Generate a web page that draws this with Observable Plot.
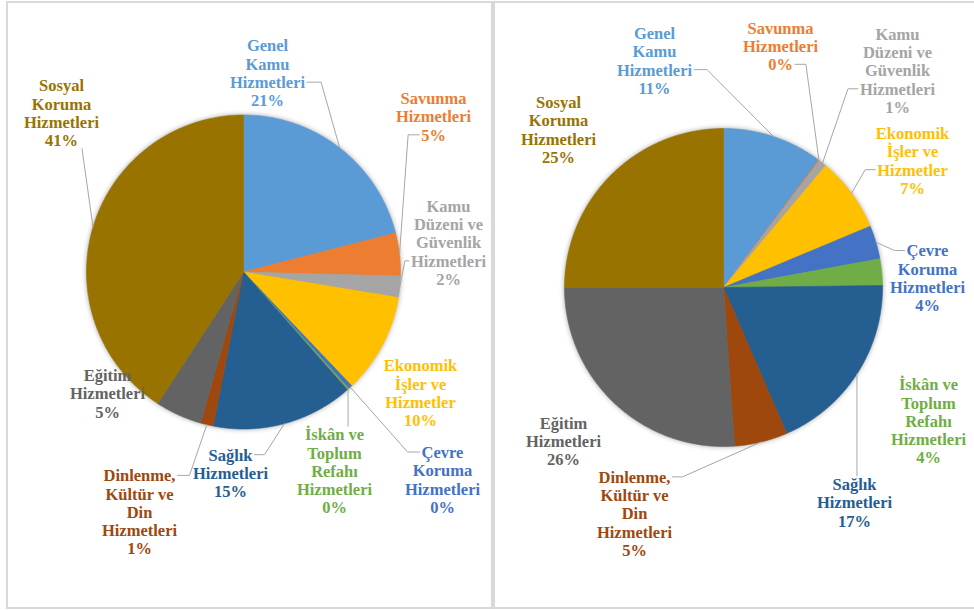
<!DOCTYPE html>
<html>
<head>
<meta charset="utf-8">
<script src="https://cdn.jsdelivr.net/npm/d3@7"></script>
<script src="https://cdn.jsdelivr.net/npm/@observablehq/plot@0.6"></script>
<style>
  html, body { margin: 0; padding: 0; background: #fff; }
  #wrap { position: relative; width: 974px; height: 610px; overflow: hidden; background: #fff; }
  .panel { position: absolute; box-sizing: border-box; border: 2px solid #d9d9d9; }
  .chart { position: absolute; top: 0; }
  .chart svg { overflow: visible; }
</style>
</head>
<body>
<div id="wrap">
  <div class="panel" style="left:6px; top:1px; width:487px; height:608px;"></div>
  <div class="panel" style="left:493px; top:1px; width:490px; height:608px;"></div>
  <div class="chart" id="left" style="left:0px;"></div>
  <div class="chart" id="right" style="left:493px;"></div>
</div>
<script>
// ---- Data ----
const categories = [
  "Genel Kamu Hizmetleri", "Savunma Hizmetleri", "Kamu Düzeni ve Güvenlik Hizmetleri",
  "Ekonomik İşler ve Hizmetler", "Çevre Koruma Hizmetleri", "İskân ve Toplum Refahı Hizmetleri",
  "Sağlık Hizmetleri", "Dinlenme, Kültür ve Din Hizmetleri", "Eğitim Hizmetleri", "Sosyal Koruma Hizmetleri"
];
const categoryLabels = [
  "Genel\nKamu\nHizmetleri", "Savunma\nHizmetleri", "Kamu\nDüzeni ve\nGüvenlik\nHizmetleri",
  "Ekonomik\nİşler ve\nHizmetler", "Çevre\nKoruma\nHizmetleri", "İskân ve\nToplum\nRefahı\nHizmetleri",
  "Sağlık\nHizmetleri", "Dinlenme,\nKültür ve\nDin\nHizmetleri", "Eğitim\nHizmetleri", "Sosyal\nKoruma\nHizmetleri"
];
const colors = ["#5B9BD5", "#ED7D31", "#A5A5A5", "#FFC000", "#4472C4", "#70AD47", "#255E91", "#9E480E", "#636363", "#997300"];

// shares (percent)
const leftShares  = [21.0, 4.4, 2.2, 10.3, 0.4, 0.2, 14.6, 1.3, 4.8, 40.8];
const rightShares = [10.2, 0.1, 0.8, 7.6, 3.4, 2.7, 18.7, 5.4, 26.1, 25.0];
// percentage labels as printed
const leftPctLabels  = ["21%", "5%", "2%", "10%", "0%", "0%", "15%", "1%", "5%", "41%"];
const rightPctLabels = ["11%", "0%", "1%", "7%", "4%", "4%", "17%", "5%", "26%", "25%"];

// ---- Layout (label block centre offsets from pie centre, leader style) ----
const leftLayout = [
  {dx: 24,   dy: -199,  leader: {type: "right", line: 2, stub: 14}},
  {dx: 190,  dy: -155.5, leader: {type: "left", line: 2, stub: 11}},
  {dx: 205,  dy: -29.5, leader: {type: "left", line: 3, stub: 4}},
  {dx: 177,  dy: 121,   leader: null},
  {dx: 199,  dy: 207.5, leader: {type: "left", line: 0, stub: 12}},
  {dx: 91,   dy: 199,   leader: {type: "top"}},
  {dx: -13,  dy: 201,   leader: {type: "right", line: 0, stub: 10}},
  {dx: -104, dy: 240,   leader: {type: "right", line: 0, stub: 12}},
  {dx: -136, dy: 121.5, leader: null},
  {dx: -182, dy: -159,  leader: {type: "bottom", line: 3}}
];
const rightLayout = [
  {dx: -69,  dy: -227,  leader: {type: "right", line: 2, stub: 13}},
  {dx: 57,   dy: -241.5, leader: {type: "right", line: 2, stub: 11}},
  {dx: 174,  dy: -217,  leader: {type: "left", line: 3, stub: 10}},
  {dx: 189,  dy: -127,  leader: {type: "left", line: 2, stub: 10}},
  {dx: 204,  dy: -9.5,  leader: {type: "left", line: 0, stub: 10}},
  {dx: 205,  dy: 133.5, leader: null},
  {dx: 131,  dy: 215,   leader: {type: "top"}},
  {dx: -89,  dy: 226,   leader: {type: "right", line: 0, stub: 10}},
  {dx: -160, dy: 153.5, leader: null},
  {dx: -165, dy: -158,  leader: null}
];

const FONT_SIZE = 16.5;
const LINE_H = 1.11;
const FONT_FAMILY = "'Liberation Serif', 'Times New Roman', serif";
const ctx = document.createElement("canvas").getContext("2d");
ctx.font = `bold ${FONT_SIZE}px ${FONT_FAMILY}`;
const measure = (s) => ctx.measureText(s).width;

function pieChart({shares, pcts, layout, width, height, cx, cy, r}) {
  const total = d3.sum(shares);
  const cum = d3.cumsum(shares);
  const slices = shares.map((v, i) => ({i, a0: (cum[i] - v) / total * 360, a1: cum[i] / total * 360}));
  const pts = [];
  for (const s of slices) {
    pts.push({k: s.i, x: 0, y: 0, c: colors[s.i]});
    const n = Math.max(2, Math.ceil((s.a1 - s.a0) / 0.5));
    for (let j = 0; j <= n; j++) {
      const a = (s.a0 + (s.a1 - s.a0) * j / n) * Math.PI / 180;
      pts.push({k: s.i, x: r * Math.sin(a), y: -r * Math.cos(a), c: colors[s.i]});
    }
    pts.push({k: s.i, x: 0, y: 0, c: colors[s.i]});
  }
  const labels = layout.map((L, i) => ({x: L.dx, y: L.dy, text: categoryLabels[i] + "\n" + pcts[i], c: colors[i]}));
  const lh = FONT_SIZE * LINE_H;
  const leaders = [];
  layout.forEach((L, i) => {
    if (!L.leader) return;
    const s = slices[i];
    const m = (s.a0 + s.a1) / 2 * Math.PI / 180;
    const ex = r * Math.sin(m), ey = -r * Math.cos(m);
    const lines = labels[i].text.split("\n");
    const top = L.dy - lines.length * lh / 2;
    const P = [];
    const t = L.leader.type;
    if (t === "right" || t === "left") {
      const w = measure(lines[L.leader.line]);
      const sy = top + (L.leader.line + 0.5) * lh;
      const sgn = t === "right" ? 1 : -1;
      const sx = L.dx + sgn * (w / 2 + 2);
      P.push([sx, sy], [sx + sgn * L.leader.stub, sy], [ex, ey]);
    } else if (t === "top") {
      P.push([ex, top + 1], [ex, ey]);
    } else if (t === "bottom") {
      const w = measure(lines[L.leader.line]);
      P.push([L.dx + w / 2 + 4, top + lines.length * lh - 1], [ex, ey]);
    }
    P.forEach(([x, y]) => leaders.push({k: i, x, y}));
  });

  const plot = Plot.plot({
    width, height,
    margin: 0,
    x: {domain: [-cx, width - cx], range: [0, width], axis: null},
    y: {domain: [-cy, height - cy], range: [0, height], axis: null},
    style: {background: "transparent", overflow: "visible", fontFamily: FONT_FAMILY},
    marks: [
      Plot.line(pts, {x: "x", y: "y", z: "k", fill: "c", stroke: "c", strokeWidth: 0.6, curve: "linear", className: "slices"}),
      Plot.line(leaders, {x: "x", y: "y", z: "k", stroke: "#a6a6a6", strokeWidth: 1, curve: "linear"}),
      Plot.text(labels, {x: "x", y: "y", text: "text", fill: "c", fontSize: FONT_SIZE, fontWeight: "bold",
        fontFamily: FONT_FAMILY, lineHeight: LINE_H, textAnchor: "middle", lineAnchor: "middle"})
    ]
  });
  const g = plot.querySelector("g.slices");
  if (g) g.style.filter = "drop-shadow(0px 0px 2.5px rgba(0,0,0,0.35))";
  return plot;
}

document.getElementById("left").append(pieChart({
  shares: leftShares, pcts: leftPctLabels, layout: leftLayout,
  width: 493, height: 610, cx: 243, cy: 271.5, r: 157
}));
document.getElementById("right").append(pieChart({
  shares: rightShares, pcts: rightPctLabels, layout: rightLayout,
  width: 481, height: 610, cx: 230, cy: 287, r: 159
}));
</script>
</body>
</html>
